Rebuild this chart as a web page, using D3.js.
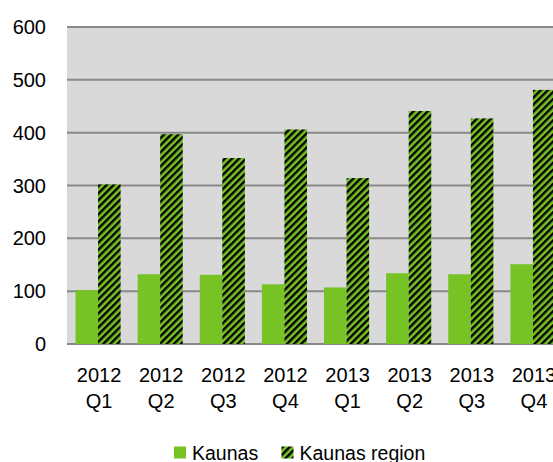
<!DOCTYPE html>
<html>
<head>
<meta charset="utf-8">
<script src="https://cdn.jsdelivr.net/npm/d3@7"></script>
<style>
  body { margin: 0; background: #fff; }
  text { font-family: "Liberation Sans", Arial, sans-serif; fill: #000; }
</style>
</head>
<body>
<svg id="chart" width="553" height="462"></svg>
<script>
// ***** Data ***** //
var years = ['2012', '2012', '2012', '2012', '2013', '2013', '2013', '2013'];
var quarters = ['Q1', 'Q2', 'Q3', 'Q4', 'Q1', 'Q2', 'Q3', 'Q4'];
var categories = years.map((y, i) => y + ' ' + quarters[i]);
var kaunas = [102, 132, 131, 113, 107, 134, 132, 151];
var kaunasRegion = [302, 397, 352, 406, 314, 441, 427, 481];
var seriesNames = ['Kaunas', 'Kaunas region'];
var yTicks = [0, 100, 200, 300, 400, 500, 600];

var svg = d3.select('#chart');
var green = '#77c225';

// ***** Pattern ***** //
var defs = svg.append('defs');
var pat = defs.append('pattern')
    .attr('id', 'stripes')
    .attr('patternUnits', 'userSpaceOnUse')
    .attr('width', 5)
    .attr('height', 5)
    .attr('patternTransform', 'rotate(45)');
pat.append('rect').attr('width', 5).attr('height', 5).attr('fill', green);
pat.append('rect').attr('width', 2.4).attr('height', 5).attr('fill', '#000');

// ***** Scales ***** //
var plotL = 67, plotR = 564, plotT = 27, plotB = 344;
var x = d3.scaleBand().domain(categories).range([plotL, plotR])
    .paddingInner(0.274).paddingOuter(0.137);
var xs = d3.scaleBand().domain(seriesNames).range([0, x.bandwidth()]);
var y = d3.scaleLinear().domain([0, 600]).range([plotB, plotT]);

// ***** Plot area ***** //
svg.append('rect')
    .attr('x', plotL).attr('y', plotT)
    .attr('width', 553 - plotL).attr('height', plotB - plotT)
    .attr('fill', '#d9d9d9');

svg.append('g')
    .selectAll('line')
    .data(yTicks)
    .enter()
    .append('line')
    .attr('x1', plotL).attr('x2', 553)
    .attr('y1', d => y(d)).attr('y2', d => y(d))
    .attr('stroke', '#898989')
    .attr('stroke-width', 2);

// ***** Bars ***** //
var series = [kaunas, kaunasRegion];
series.forEach(function (vals, s) {
    svg.append('g')
        .selectAll('rect')
        .data(vals)
        .enter()
        .append('rect')
        .attr('x', (d, i) => x(categories[i]) + xs(seriesNames[s]))
        .attr('y', d => y(d))
        .attr('width', xs.bandwidth())
        .attr('height', d => plotB - y(d))
        .attr('fill', s == 0 ? green : 'url(#stripes)');
});

// ***** Y labels ***** //
svg.append('g')
    .selectAll('text')
    .data(yTicks)
    .enter()
    .append('text')
    .attr('x', 46)
    .attr('y', d => y(d) + 7)
    .attr('text-anchor', 'end')
    .style('font-size', '20px')
    .text(d => d);

// ***** X labels ***** //
var xl = svg.append('g')
    .selectAll('g')
    .data(categories)
    .enter()
    .append('g')
    .attr('transform', d => 'translate(' + (x(d) + x.bandwidth() / 2 + 1) + ',0)');
xl.append('text')
    .attr('y', 382)
    .attr('text-anchor', 'middle')
    .style('font-size', '20px')
    .text((d, i) => years[i]);
xl.append('text')
    .attr('y', 408)
    .attr('text-anchor', 'middle')
    .style('font-size', '20px')
    .text((d, i) => quarters[i]);

// ***** Legend ***** //
var legendX = [174, 281.5];
var leg = svg.append('g')
    .selectAll('g')
    .data(seriesNames)
    .enter()
    .append('g')
    .attr('transform', (d, i) => 'translate(' + legendX[i] + ',446.5)');
leg.append('rect')
    .attr('width', 12).attr('height', 12)
    .attr('fill', (d, i) => i == 0 ? green : 'url(#stripes)');
leg.append('text')
    .attr('x', 18)
    .attr('y', 13)
    .style('font-size', '19.5px')
    .text(d => d);
</script>
</body>
</html>
